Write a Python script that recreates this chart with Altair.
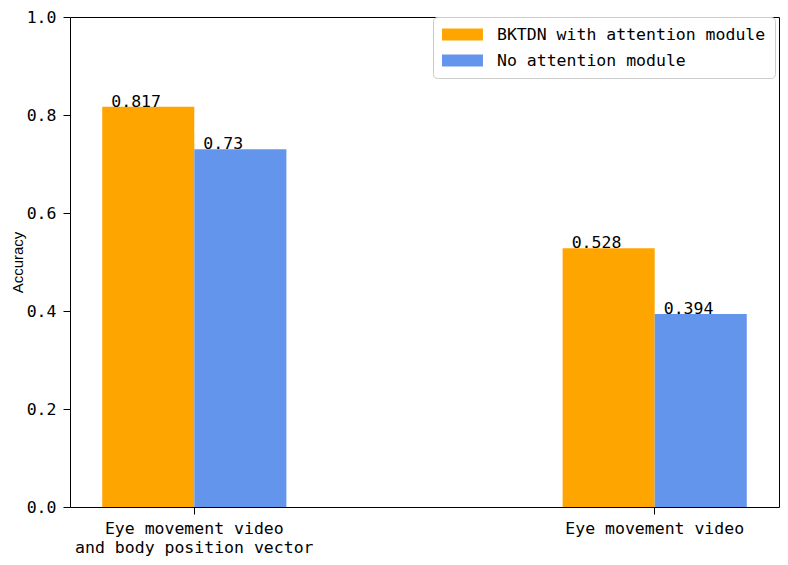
import altair as alt
import pandas as pd

categories = ["Eye movement video\nand body position vector", "Eye movement video"]
series = ["BKTDN with attention module", "No attention module"]
with_attention = [0.817, 0.528]
no_attention = [0.73, 0.394]
value_labels_with = ["0.817", "0.528"]
value_labels_no = ["0.73", "0.394"]
colors = ["#FFA500", "#6495ED"]

rows = []
for i, c in enumerate(categories):
    rows.append({"category": c, "series": series[0], "value": with_attention[i], "label": value_labels_with[i]})
    rows.append({"category": c, "series": series[1], "value": no_attention[i], "label": value_labels_no[i]})
df = pd.DataFrame(rows)

MONO = "DejaVu Sans Mono"

x_enc = alt.X(
    "category:N",
    sort=categories,
    scale=alt.Scale(paddingInner=0.6, paddingOuter=0.07),
    axis=alt.Axis(
        title=None,
        labelAngle=0,
        labelExpr="split(datum.label, '\\n')",
        labelFont=MONO,
        labelFontSize=16.5,
        labelColor="black",
        labelLineHeight=19,
        labelPadding=6,
        labelBaseline="top",
        labelLimit=0,
        tickColor="black",
        tickSize=7,
        tickWidth=1,
        domain=False,
        grid=False,
    ),
)
xoff = alt.XOffset("series:N", sort=series, scale=alt.Scale(paddingInner=0, paddingOuter=0))

base = alt.Chart(df)

bars = base.mark_bar().encode(
    x=x_enc,
    xOffset=xoff,
    y=alt.Y(
        "value:Q",
        scale=alt.Scale(domain=[0, 1], nice=False),
        axis=alt.Axis(
            title="Accuracy",
            titleFont="Liberation Sans",
            titleFontSize=15,
            titleFontWeight="normal",
            titleColor="black",
            titlePadding=1,
            values=[0, 0.2, 0.4, 0.6, 0.8, 1.0],
            format=".1f",
            labelFont=MONO,
            labelFontSize=16.5,
            labelColor="black",
            labelPadding=7,
            labelLimit=0,
            tickColor="black",
            tickSize=7,
            tickWidth=1,
            domain=False,
            grid=False,
        ),
    ),
    color=alt.Color(
        "series:N",
        sort=series,
        scale=alt.Scale(domain=series, range=colors),
        legend=alt.Legend(
            title=None,
            orient="none",
            legendX=363,
            legendY=0,
            symbolType="M-1,-0.7 L3.82,-0.7 L3.82,0.7 L-1,0.7 Z",
            symbolSize=289,
            symbolStrokeWidth=0,
            symbolOpacity=1,
            labelFont=MONO,
            labelFontSize=16.5,
            labelColor="black",
            labelOffset=38,
            labelLimit=0,
            rowPadding=9,
            padding=9,
            fillColor="white",
            strokeColor="#cccccc",
            cornerRadius=4,
        ),
    ),
)

texts = base.mark_text(
    align="left", baseline="alphabetic", dx=-37, font=MONO, fontSize=16.5, color="black"
).encode(
    x=alt.X("category:N", sort=categories),
    xOffset=xoff,
    y="value:Q",
    text="label:N",
)

chart = (
    alt.layer(bars, texts)
    .properties(
        width=709,
        height=490,
        autosize=alt.AutoSizeParams(type="none"),
        padding={"left": 62, "top": 9, "right": 1, "bottom": 50},
        background="white",
    )
    .configure_view(stroke="black", strokeWidth=1)
)

chart.save("out.html", embed_options={"renderer": "svg", "actions": False})
